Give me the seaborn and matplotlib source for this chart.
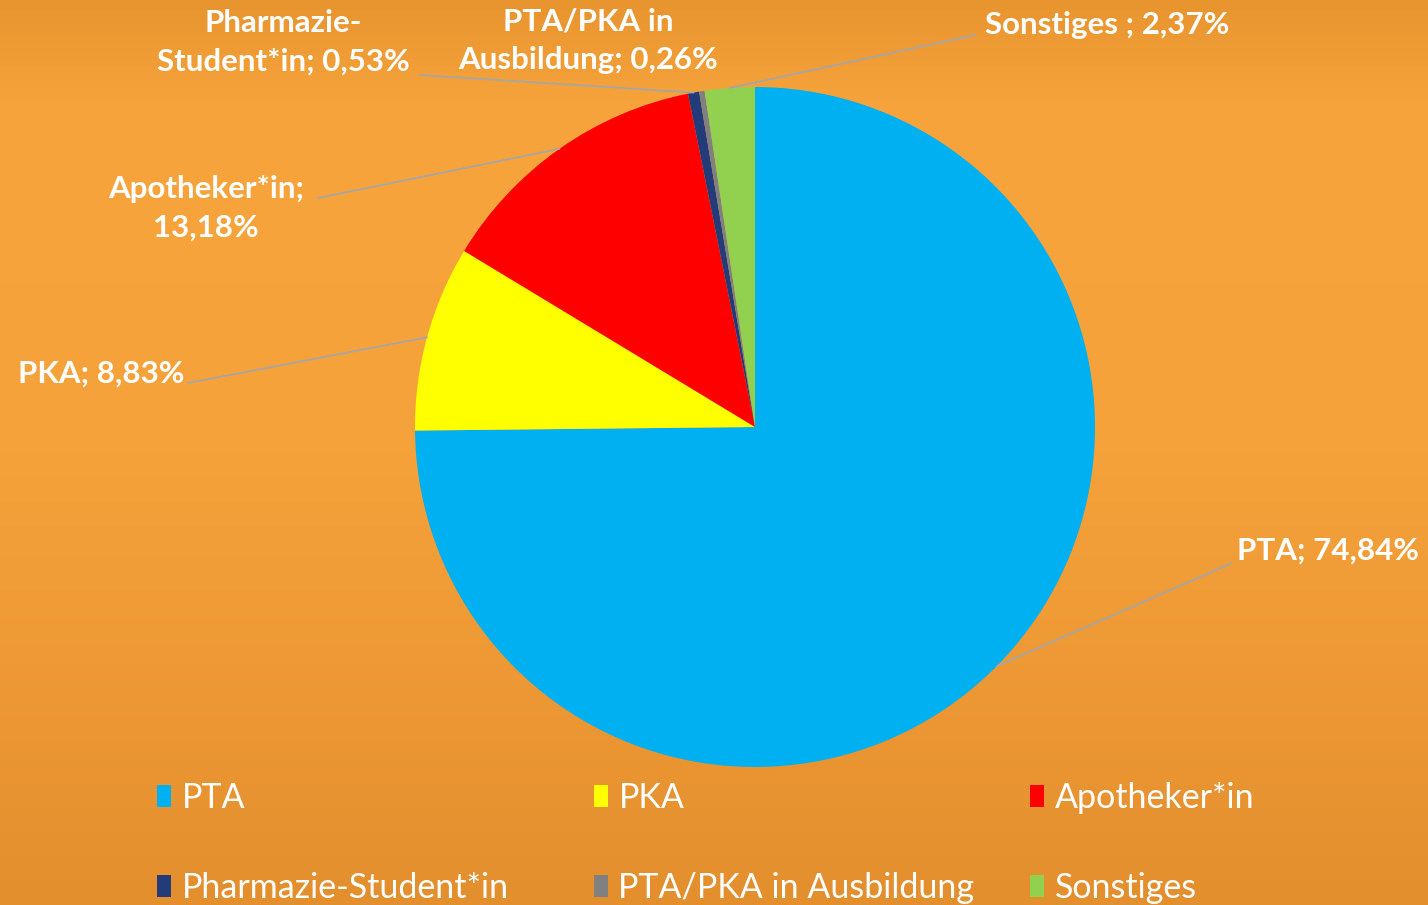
import numpy as np
import matplotlib.pyplot as plt
import matplotlib.colors as mcolors
import seaborn as sns

# ========== data ==========
categories = ['PTA', 'PKA', 'Apotheker*in', 'Pharmazie-Student*in',
              'PTA/PKA in Ausbildung', 'Sonstiges']
shares = [74.84, 8.83, 13.18, 0.53, 0.26, 2.37]
slice_colors = ['#00B0F0', '#FFFF00', '#FF0000', '#243B7A', '#808080', '#92D050']
label_texts = ['PTA; 74,84%', 'PKA; 8,83%', 'Apotheker*in;\n13,18%',
               'Pharmazie-\nStudent*in; 0,53%', 'PTA/PKA in\nAusbildung; 0,26%',
               'Sonstiges ; 2,37%']

# ========== layout (pixels from top-left) ==========
W, H = 1428, 905
cx, cy, R = 755, 427, 340
label_pos = [(1328, 551), (101, 374), (206, 208), (283, 42), (588, 41), (1107, 25)]
line_start = [(1232, 563), (188, 383), (318, 198), (420, 75), None, (975, 35)]

sns.set_theme(style='white')
plt.rcParams['font.family'] = ['Lato', 'DejaVu Sans']

fig = plt.figure(figsize=(W / 100, H / 100), dpi=100)

# background gradient
bg = fig.add_axes([0, 0, 1, 1])
cmap = mcolors.LinearSegmentedColormap.from_list(
    'bg', [(0.0, '#E8952F'), (0.12, '#F8A43D'), (0.5, '#F6A23B'), (1.0, '#E48F2E')])
grad = np.linspace(0, 1, 256).reshape(-1, 1)
bg.imshow(grad, aspect='auto', cmap=cmap, extent=[0, 1, 0, 1], origin='upper')
bg.set_axis_off()

ax = fig.add_axes([0, 0, 1, 1])
ax.set_facecolor('none')


def fy(y):
    return H - y


wedges, _ = ax.pie(shares, colors=slice_colors, startangle=90, counterclock=False,
                   center=(cx, fy(cy)), radius=R, frame=True,
                   wedgeprops=dict(linewidth=0))
ax.set_xlim(0, W)
ax.set_ylim(0, H)
ax.set_axis_off()

# data labels with leader lines
for w, txt, (lx, ly), ls in zip(wedges, label_texts, label_pos, line_start):
    ang = np.deg2rad((w.theta1 + w.theta2) / 2)
    ex = w.center[0] + w.r * np.cos(ang)
    ey = w.center[1] + w.r * np.sin(ang)
    if ls is not None:
        ax.plot([ls[0], ex], [fy(ls[1]), ey], color='#A6A6A6', lw=1.3, zorder=1)
    ax.text(lx, fy(ly), txt, ha='center', va='center', color='white',
            fontsize=22.5, fontweight='bold', linespacing=1.45)

# legend: three columns of two entries
col_x = [157, 594, 1030]
for i, x in enumerate(col_x):
    fig.legend(handles=[wedges[i], wedges[i + 3]],
               labels=[categories[i], categories[i + 3]],
               loc='upper left', bbox_to_anchor=(x / W, 1 - 782 / H),
               frameon=False, fontsize=24.5, labelcolor='white',
               handlelength=0.42, handleheight=0.6, handletextpad=0.3,
               labelspacing=1.7, borderpad=0, borderaxespad=0)

fig.savefig('out.png', dpi=100)
